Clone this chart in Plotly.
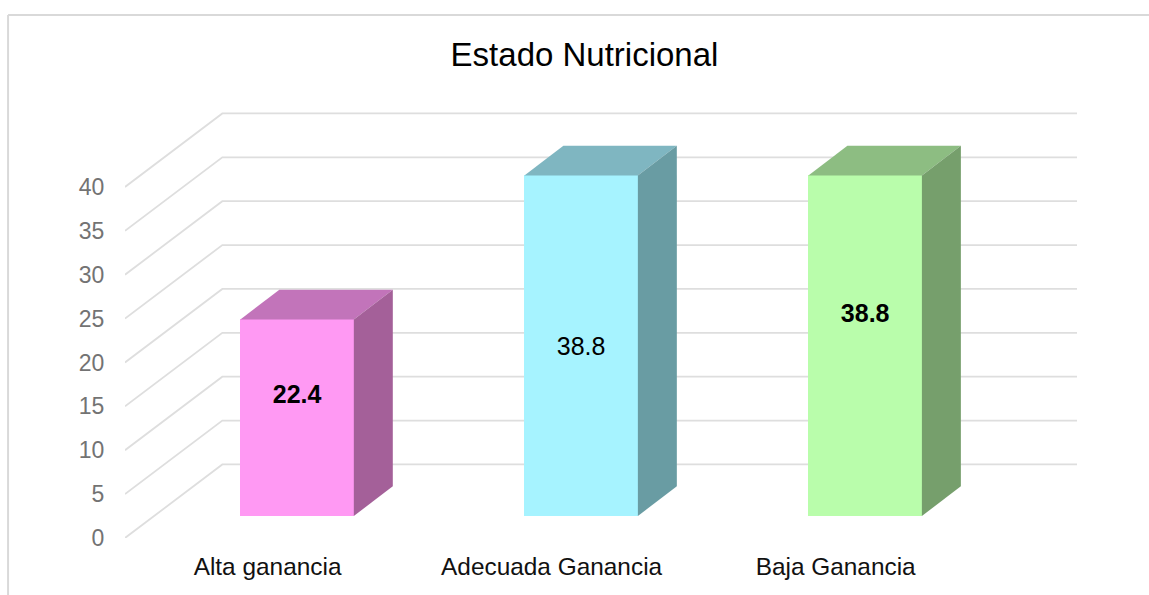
import plotly.graph_objects as go

# Data
categories = ["Alta ganancia", "Adecuada Ganancia", "Baja Ganancia"]
values = [22.4, 38.8, 38.8]
y_ticks = [0, 5, 10, 15, 20, 25, 30, 35, 40]
chart_title = "Estado Nutricional"

# Colours
front_colors = ["#FF99F3", "#A6F3FF", "#B9FDAB"]
top_colors = ["#C274BA", "#7FB6C1", "#8DBD82"]
side_colors = ["#A46099", "#699CA3", "#769F6C"]
grid_color = "#DEDEDE"
FONT = "Liberation Sans"

# Geometry of the pseudo-3D scene, in axis units
X_LEFT, X_RIGHT = -0.6059, 2.7458
Y_MAX = 49.91
WALL_DX, WALL_DY = 0.3426, 8.38
BAR_WIDTH = 0.3995
BAR_DX, BAR_DY = 0.1372, 3.38
BAR_BASE = 2.51
LABEL_SHIFT = -0.104
label_heights = [16.15, 21.6, 25.35]
label_bold = [True, False, True]

fig = go.Figure()

# Front faces
fig.add_trace(go.Bar(
    x=list(range(len(categories))), y=values, base=BAR_BASE, width=BAR_WIDTH,
    marker=dict(color=front_colors, line=dict(width=0)), hoverinfo="skip",
))

# Top and side faces
for i, v in enumerate(values):
    xl, xr = i - BAR_WIDTH / 2, i + BAR_WIDTH / 2
    top = BAR_BASE + v
    fig.add_trace(go.Scatter(
        x=[xl, xr, xr + BAR_DX, xl + BAR_DX, xl],
        y=[top, top, top + BAR_DY, top + BAR_DY, top],
        mode="lines", fill="toself", fillcolor=top_colors[i],
        line=dict(width=0), hoverinfo="skip",
    ))
    fig.add_trace(go.Scatter(
        x=[xr, xr + BAR_DX, xr + BAR_DX, xr, xr],
        y=[BAR_BASE, BAR_BASE + BAR_DY, top + BAR_DY, top, BAR_BASE],
        mode="lines", fill="toself", fillcolor=side_colors[i],
        line=dict(width=0), hoverinfo="skip",
    ))

# Data labels
fig.add_trace(go.Scatter(
    x=list(range(len(categories))), y=label_heights, mode="text",
    text=[f"<b>{v}</b>" if b else f"{v}" for v, b in zip(values, label_bold)],
    textposition="middle center",
    textfont=dict(family=FONT, size=25, color="#000000"),
    hoverinfo="skip",
))

# Side wall and back wall gridlines, under the traces
shapes = []
for v in y_ticks:
    shapes.append(dict(
        type="path", xref="x", yref="y", layer="below",
        path=f"M {X_LEFT} {v} L {X_LEFT + WALL_DX} {v + WALL_DY} L {X_RIGHT} {v + WALL_DY}",
        line=dict(color=grid_color, width=1.8),
    ))

# Chart frame (top and left edges)
FRAME_LEFT = (7.5 - 124.5) / 952.5
FRAME_TOP = (438 + 85) / 438
shapes.append(dict(type="line", xref="x domain", yref="y domain",
                   x0=FRAME_LEFT, x1=(1149 - 124.5) / 952.5, y0=FRAME_TOP, y1=FRAME_TOP,
                   line=dict(color="#D9D9D9", width=2)))
shapes.append(dict(type="line", xref="x domain", yref="y domain",
                   x0=FRAME_LEFT, x1=FRAME_LEFT, y0=-65 / 438, y1=FRAME_TOP,
                   line=dict(color="#D9D9D9", width=2)))

fig.update_layout(
    width=1149, height=595, autosize=False,
    margin=dict(l=124.5, r=72, t=100, b=57, pad=0),
    paper_bgcolor="white", plot_bgcolor="white",
    showlegend=False, bargap=0,
    title=dict(
        text=chart_title, x=584.5 / 1149, y=1 - 54 / 595,
        xanchor="center", yanchor="middle",
        font=dict(family=FONT, size=33, color="#000000"),
    ),
    xaxis=dict(
        range=[X_LEFT, X_RIGHT], showgrid=False, zeroline=False, showline=False,
        tickmode="array",
        tickvals=[i + LABEL_SHIFT for i in range(len(categories))],
        ticktext=categories,
        ticks="outside", ticklen=7, tickcolor="rgba(0,0,0,0)",
        tickfont=dict(family=FONT, size=24.4, color="#111111"),
    ),
    yaxis=dict(
        range=[0, Y_MAX], showgrid=False, zeroline=False, showline=False,
        tickmode="array", tickvals=y_ticks,
        ticks="outside", ticklen=15, tickcolor="rgba(0,0,0,0)",
        tickfont=dict(family=FONT, size=23, color="#737373"),
    ),
    shapes=shapes,
)

fig.write_html(
    "out.html",
    config={"displayModeBar": False},
    post_script="document.body.style.margin='0';document.documentElement.style.overflow='hidden';",
)
